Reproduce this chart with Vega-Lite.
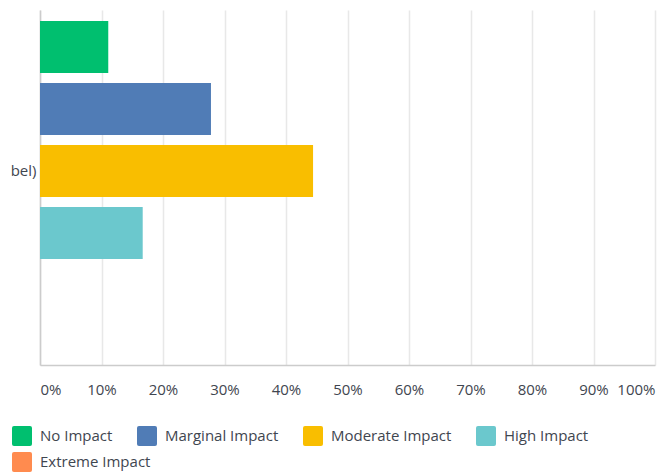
{
  "$schema": "https://vega.github.io/schema/vega-lite/v6.json",
  "width": 615,
  "height": 355,
  "autosize": {"type": "none"},
  "padding": {"left": 40, "top": 10, "right": 2, "bottom": 108},
  "background": "white",
  "config": {
    "view": {"stroke": null},
    "font": "Open Sans",
    "legend": {
      "title": null,
      "orient": "none",
      "direction": "horizontal",
      "gridAlign": "none",
      "columnPadding": 24,
      "symbolType": "M-0.8,-1 L0.8,-1 Q1,-1 1,-0.8 L1,0.8 Q1,1 0.8,1 L-0.8,1 Q-1,1 -1,0.8 L-1,-0.8 Q-1,-1 -0.8,-1 Z",
      "symbolSize": 400,
      "symbolStrokeWidth": 0,
      "symbolOpacity": 1,
      "labelOffset": 8,
      "labelFontSize": 15,
      "labelColor": "#3f4650",
      "labelLimit": 300
    }
  },
  "data": {
    "values": [
      {"category": "bel)", "impact": "No Impact", "pct": 0.111},
      {"category": "bel)", "impact": "Marginal Impact", "pct": 0.278},
      {"category": "bel)", "impact": "Moderate Impact", "pct": 0.444},
      {"category": "bel)", "impact": "High Impact", "pct": 0.167},
      {"category": "bel)", "impact": "Extreme Impact", "pct": 0.0}
    ]
  },
  "encoding": {
    "x": {
      "field": "pct",
      "type": "quantitative",
      "scale": {"domain": [0, 1], "nice": false},
      "axis": {
        "format": ".0%",
        "values": [0, 0.1, 0.2, 0.3, 0.4, 0.5, 0.6, 0.7, 0.8, 0.9, 1.0],
        "title": null,
        "ticks": false,
        "labelFlush": true,
        "labelPadding": 17,
        "labelFontSize": 15,
        "labelColor": "#3f4650",
        "domainColor": "#cccccc",
        "domainWidth": 1.5,
        "gridColor": "#e8e8e8",
        "gridWidth": 1.5
      }
    },
    "y": {
      "field": "impact",
      "type": "nominal",
      "scale": {
        "domain": ["No Impact", "Marginal Impact", "Moderate Impact", "High Impact", "Extreme Impact"],
        "paddingInner": 0.16, "paddingOuter": 0.443, "align": 0.2
      },
      "axis": {
        "title": null,
        "ticks": false,
        "labelExpr": "datum.value == 'Moderate Impact' ? 'bel)' : ''",
        "labelFontSize": 15,
        "labelColor": "#3f4650",
        "labelPadding": 4,
        "domainColor": "#cccccc",
        "domainWidth": 1.5,
        "grid": false
      }
    }
  },
  "layer": [
    {
      "transform": [{"filter": "datum.impact != 'Extreme Impact'"}],
      "mark": {"type": "bar"},
      "encoding": {
        "color": {
          "field": "impact",
          "type": "nominal",
          "scale": {
            "domain": ["No Impact", "Marginal Impact", "Moderate Impact", "High Impact"],
            "range": ["#00bf6f", "#507cb6", "#f9be00", "#6bc8cd"]
          },
          "legend": {"legendX": -28, "legendY": 416}
        }
      }
    },
    {
      "transform": [{"filter": "datum.impact == 'Extreme Impact'"}],
      "mark": {"type": "bar"},
      "encoding": {
        "fill": {
          "field": "impact",
          "type": "nominal",
          "scale": {
            "domain": ["Extreme Impact"],
            "range": ["#ff8b4f"]
          },
          "legend": {"legendX": -28, "legendY": 442}
        }
      }
    }
  ]
}
